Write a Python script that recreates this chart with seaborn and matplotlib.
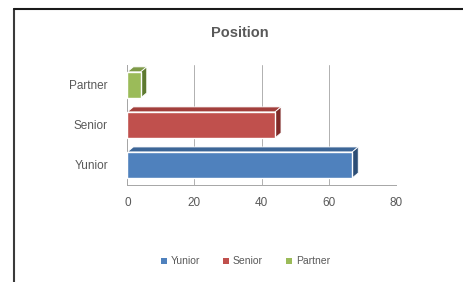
import matplotlib
matplotlib.use("Agg")
import matplotlib.pyplot as plt
from matplotlib.patches import Polygon, Patch
from matplotlib.lines import Line2D
from matplotlib.transforms import IdentityTransform
import seaborn as sns
import pandas as pd

categories = ["Yunior", "Senior", "Partner"]
values = [67, 44, 4]
x_ticks = [0, 20, 40, 60, 80]
title = "Position"

front_colors = ["#4F81BD", "#C0504D", "#9BBB59"]
top_colors = ["#3D6697", "#A23F3C", "#7E9A48"]
side_colors = ["#2C4D75", "#7F2A28", "#5E7A30"]

sns.set_theme(style="white")
plt.rcParams["font.family"] = ["Liberation Sans", "DejaVu Sans"]

df = pd.DataFrame({"Position": categories, "Value": values})

fig = plt.figure(figsize=(4.63, 2.82), dpi=100)
ax = fig.add_axes([0.275, 0.344, 0.58, 0.426])

sns.barplot(data=df, x="Value", y="Position", hue="Position",
            order=["Partner", "Senior", "Yunior"], hue_order=categories,
            palette=front_colors, saturation=1, dodge=False, width=0.65, ax=ax,
            edgecolor="white", linewidth=1.0, zorder=3, legend=False)

ax.set_xlim(0, 80)
ax.set_ylim(2.5, -0.5)
ax.set_xticks(x_ticks)
ax.set_xlabel("")
ax.set_ylabel("")
ax.set_title(title, fontsize=10.5, fontweight="bold", color="#595959", pad=20, x=0.42)
ax.tick_params(axis="x", colors="#595959", labelsize=8.5, length=0, pad=9)
ax.tick_params(axis="y", colors="#595959", labelsize=8.5, length=0, pad=14)
ax.grid(axis="x", color="#B0B0B0", linewidth=0.7)
ax.set_axisbelow(True)
for s in ["top", "right"]:
    ax.spines[s].set_visible(False)
for s in ["left", "bottom"]:
    ax.spines[s].set_color("#A6A6A6")
    ax.spines[s].set_linewidth(0.7)

# pseudo-3D faces derived from the bars drawn by seaborn
dx, dy = 6, 5
color_for = {c: i for i, c in enumerate(categories)}
order_map = {0: "Partner", 1: "Senior", 2: "Yunior"}
bars = [p for p in ax.patches if p.get_width() > 0]
for p in bars:
    yc = p.get_y() + p.get_height() / 2
    i = color_for[order_map[int(round(yc))]]
    x0, y0 = p.get_x(), p.get_y()
    x1, y1 = x0 + p.get_width(), y0 + p.get_height()
    (ax0, ay_top), (ax1, ay_bot) = ax.transData.transform([(x0, y0), (x1, y1)])
    top = Polygon([(ax0, ay_top), (ax1, ay_top), (ax1 + dx, ay_top + dy), (ax0 + dx, ay_top + dy)],
                  closed=True, transform=IdentityTransform(), facecolor=top_colors[i],
                  edgecolor="white", linewidth=0.6, zorder=2)
    side = Polygon([(ax1, ay_top), (ax1 + dx, ay_top + dy), (ax1 + dx, ay_bot + dy), (ax1, ay_bot)],
                   closed=True, transform=IdentityTransform(), facecolor=side_colors[i],
                   edgecolor="white", linewidth=0.6, zorder=2)
    ax.add_artist(top)
    ax.add_artist(side)

handles = [Patch(facecolor=c, edgecolor="none", label=l) for c, l in zip(front_colors, categories)]
fig.legend(handles=handles, loc="center", bbox_to_anchor=(0.53, 0.073), ncol=3,
           frameon=False, fontsize=7.5, handlelength=0.55, handleheight=0.55,
           handletextpad=0.4, columnspacing=2.2, labelcolor="#595959")

# outer frame (left and top edges)
fig.add_artist(Line2D([14 / 463, 14 / 463], [0, 1 - 9 / 282], transform=fig.transFigure,
                      color="#3A3A3A", linewidth=1.5))
fig.add_artist(Line2D([14 / 463, 1], [1 - 9 / 282, 1 - 9 / 282], transform=fig.transFigure,
                      color="#1A1A1A", linewidth=1.5))

fig.savefig("out.png", dpi=100)
